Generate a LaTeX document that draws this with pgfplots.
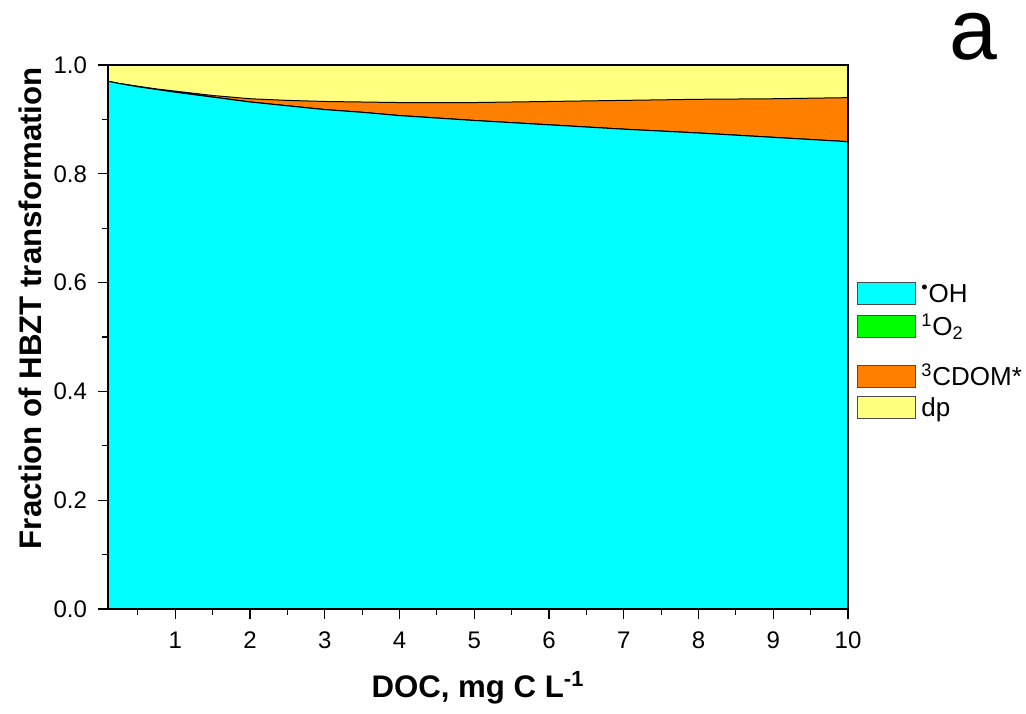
\documentclass[border=0pt]{standalone}
\usepackage{fontspec}
\setmainfont{Liberation Sans}
\usepackage{pgfplots}
\usepackage{pgfplotstable}
\pgfplotsset{compat=1.18}
\definecolor{cOH}{HTML}{00FFFF}
\definecolor{cO2}{HTML}{00FF00}
\definecolor{cCD}{HTML}{FF8000}
\definecolor{cDP}{HTML}{FFFF80}
\pgfplotstableread{
x oh o2 cdom dp
0.1 0.970 0 0.000 0.030
0.25 0.966 0 0.000 0.034
0.5 0.960 0 0.001 0.039
0.75 0.955 0 0.001 0.044
1 0.950 0 0.002 0.048
1.5 0.941 0 0.003 0.056
2 0.932 0 0.006 0.062
2.5 0.925 0 0.010 0.065
3 0.918 0 0.015 0.067
3.5 0.913 0 0.019 0.068
4 0.907 0 0.024 0.069
5 0.898 0 0.033 0.069
6 0.890 0 0.043 0.067
7 0.882 0 0.053 0.065
8 0.875 0 0.062 0.063
9 0.867 0 0.071 0.062
10 0.859 0 0.081 0.060
}\data
\newcommand{\st}{\rule[-1.4pt]{0pt}{12.4pt}}
\begin{document}
\begin{tikzpicture}
\begin{axis}[
  scale only axis, width=370pt, height=272pt,
  xmin=0.1, xmax=10, ymin=0, ymax=1,
  xtick={1,2,...,10}, minor xtick={0.5,1.5,...,9.5},
  ytick={0,0.2,0.4,0.6,0.8,1.0}, minor ytick={0.1,0.3,0.5,0.7,0.9},
  tick align=outside, xtick pos=bottom, ytick pos=left,
  major tick length=5pt, minor tick length=2.8pt,
  tick style={black, line width=0.6pt},
  axis line style={line width=0.6pt},
  /pgf/number format/assume math mode=true,
  ticklabel style={font=\fontsize{12}{14}\selectfont},
  xticklabel style={yshift=-3pt},
  yticklabel style={xshift=-2pt, /pgf/number format/.cd, fixed, fixed zerofill, precision=1},
  xlabel={\textbf{DOC, mg C L\textsuperscript{-1}}},
  ylabel={\textbf{Fraction of HBZT transformation}},
  label style={font=\fontsize{15.6}{17}\selectfont},
  xlabel style={at={(axis description cs:0.5,-0.145)}, anchor=center},
  ylabel style={at={(axis description cs:-0.105,0.553)}, anchor=center},
  stack plots=y,
  axis on top,
  clip=false,
  legend style={at={(axis description cs:1.012,0.476)}, anchor=west, draw=none, fill=none,
    inner sep=0pt, font=\fontsize{13}{15}\selectfont, cells={anchor=base west, inner sep=0pt},
    row sep=0.1pt, column sep=0.5pt},
  legend image code/.code={\draw[#1, draw=black!70] (0pt,-0.9pt) rectangle (29pt,10.1pt);},
]
\addplot[fill=cOH, draw=black, line width=0.5pt] table[x=x,y=oh]{\data} \closedcycle;
\addlegendentry{\st\textsuperscript{\textbullet}OH}
\addplot[fill=cO2, draw=black, line width=0.5pt] table[x=x,y=o2]{\data} \closedcycle;
\addlegendentry{\rule[-9.4pt]{0pt}{20.4pt}\textsuperscript{1}O\textsubscript{2}}
\addplot[fill=cCD, draw=black, line width=0.5pt] table[x=x,y=cdom]{\data} \closedcycle;
\addlegendentry{\rule[-1.4pt]{0pt}{20.9pt}\textsuperscript{3}CDOM*}
\addplot[fill=cDP, draw=none] table[x=x,y=dp]{\data} \closedcycle;
\addlegendentry{\rule[-1.4pt]{0pt}{11.4pt}dp}
\node[font=\fontsize{43}{43}\selectfont, anchor=base, inner sep=0pt] at (rel axis cs:1.169,1.011) {a};
\coordinate (bl) at (rel axis cs:-0.1459,-0.1912);
\coordinate (tr) at (rel axis cs:1.2405,1.1195);
\end{axis}
\pgfresetboundingbox
\path[use as bounding box] (bl) rectangle (tr);
\end{tikzpicture}
\end{document}
